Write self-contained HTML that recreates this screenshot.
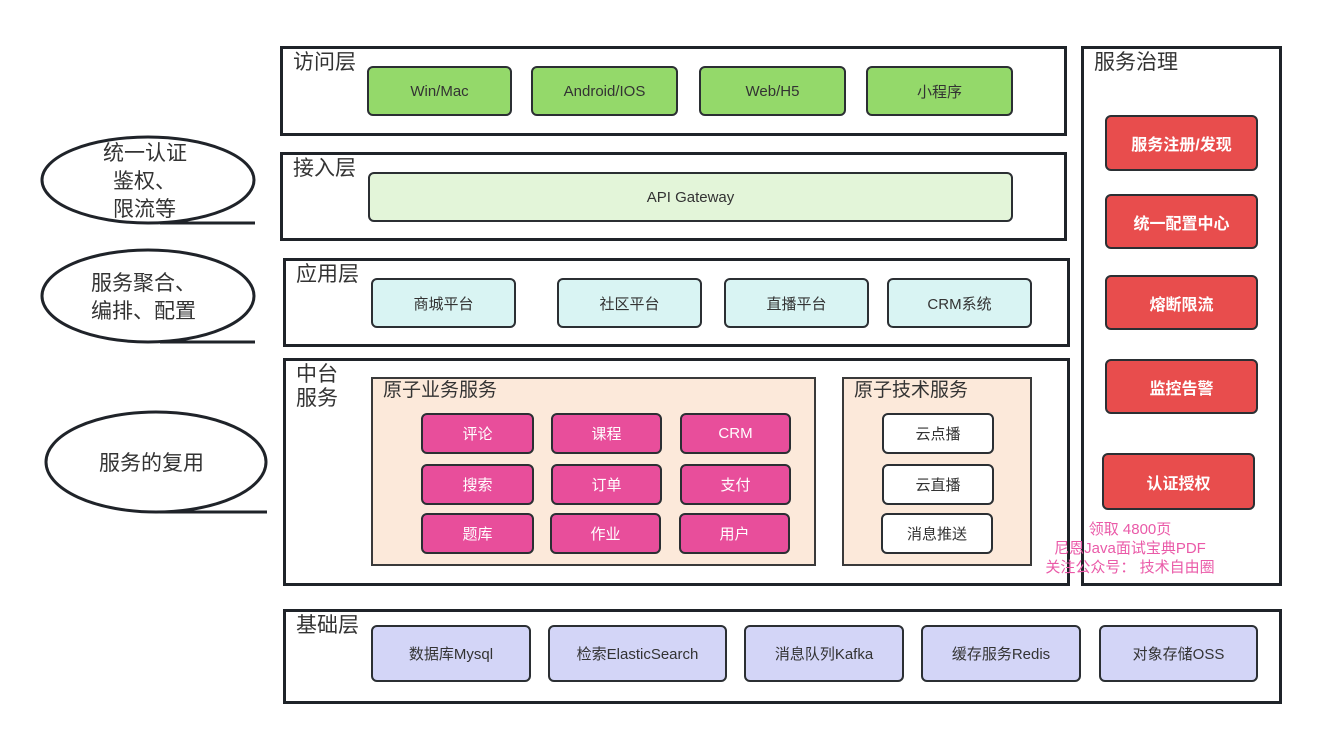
<!DOCTYPE html>
<html><head><meta charset="utf-8"><style>
*{box-sizing:border-box;margin:0;padding:0}
body{width:1334px;height:754px;background:#fff;position:relative;overflow:hidden;font-family:"Liberation Sans","Noto Sans CJK SC",sans-serif;color:#333}
.o{position:absolute;border:3px solid #1f2329}
.b{position:absolute;border:2px solid #2b2f33;border-radius:6px;display:flex;align-items:center;justify-content:center;font-size:15px;color:#333}
.g{background:#94d96a}
.a{background:#d9f4f3}
.p{background:#e84e9b;color:#fff}
.w{background:#fff}
.r{background:#e84d4d;color:#fff;font-weight:bold;font-size:16px}
.v{background:#d3d5f7}
.t{position:absolute;font-size:21px;color:#333;line-height:24px}
.pe{position:absolute;background:#fce9da;border:2px solid #3a3a3a}
</style></head><body>
<svg style="position:absolute;left:0;top:0" width="1334" height="754">
<g fill="none" stroke="#1f2329" stroke-width="3">
<ellipse cx="148" cy="180" rx="106" ry="43"/><line x1="160" y1="223" x2="255" y2="223"/>
<ellipse cx="148" cy="296" rx="106" ry="46"/><line x1="160" y1="342" x2="255" y2="342"/>
<ellipse cx="156" cy="462" rx="110" ry="50"/><line x1="160" y1="512" x2="267" y2="512"/>
</g>
<g font-family="Liberation Sans,Noto Sans CJK SC,sans-serif" font-size="21" fill="#333">
<text x="103" y="160">统一认证</text><text x="113" y="188">鉴权、</text><text x="113" y="216">限流等</text>
<text x="91" y="290">服务聚合、</text><text x="91" y="318">编排、配置</text>
<text x="99" y="470">服务的复用</text>
</g>
</svg>

<div class="o" style="left:280px;top:46px;width:787px;height:90px"></div>
<div class="t" style="left:293px;top:51px">访问层</div>
<div class="b g" style="left:367px;top:66px;width:145px;height:50px">Win/Mac</div>
<div class="b g" style="left:531px;top:66px;width:147px;height:50px">Android/IOS</div>
<div class="b g" style="left:699px;top:66px;width:147px;height:50px">Web/H5</div>
<div class="b g" style="left:866px;top:66px;width:147px;height:50px">小程序</div>

<div class="o" style="left:280px;top:152px;width:787px;height:89px"></div>
<div class="t" style="left:293px;top:157px">接入层</div>
<div class="b" style="left:368px;top:172px;width:645px;height:50px;background:#e3f5d9">API Gateway</div>

<div class="o" style="left:283px;top:258px;width:787px;height:89px"></div>
<div class="t" style="left:296px;top:263px">应用层</div>
<div class="b a" style="left:371px;top:278px;width:145px;height:50px">商城平台</div>
<div class="b a" style="left:557px;top:278px;width:145px;height:50px">社区平台</div>
<div class="b a" style="left:724px;top:278px;width:145px;height:50px">直播平台</div>
<div class="b a" style="left:887px;top:278px;width:145px;height:50px">CRM系统</div>

<div class="o" style="left:283px;top:358px;width:787px;height:228px"></div>
<div class="t" style="left:296px;top:363px">中台<br>服务</div>
<div class="pe" style="left:371px;top:377px;width:445px;height:189px"></div>
<div class="t" style="left:383px;top:379px;font-size:19px">原子业务服务</div>
<div class="pe" style="left:842px;top:377px;width:190px;height:189px"></div>
<div class="t" style="left:854px;top:379px;font-size:19px">原子技术服务</div>
<div class="b p" style="left:421px;top:413px;width:113px;height:41px">评论</div>
<div class="b p" style="left:551px;top:413px;width:111px;height:41px">课程</div>
<div class="b p" style="left:680px;top:413px;width:111px;height:41px">CRM</div>
<div class="b p" style="left:421px;top:464px;width:113px;height:41px">搜索</div>
<div class="b p" style="left:551px;top:464px;width:111px;height:41px">订单</div>
<div class="b p" style="left:680px;top:464px;width:111px;height:41px">支付</div>
<div class="b p" style="left:421px;top:513px;width:113px;height:41px">题库</div>
<div class="b p" style="left:550px;top:513px;width:111px;height:41px">作业</div>
<div class="b p" style="left:679px;top:513px;width:111px;height:41px">用户</div>
<div class="b w" style="left:882px;top:413px;width:112px;height:41px">云点播</div>
<div class="b w" style="left:882px;top:464px;width:112px;height:41px">云直播</div>
<div class="b w" style="left:881px;top:513px;width:112px;height:41px">消息推送</div>

<div class="o" style="left:1081px;top:46px;width:201px;height:540px"></div>
<div class="t" style="left:1094px;top:51px">服务治理</div>
<div class="b r" style="left:1105px;top:115px;width:153px;height:56px">服务注册/发现</div>
<div class="b r" style="left:1105px;top:194px;width:153px;height:55px">统一配置中心</div>
<div class="b r" style="left:1105px;top:275px;width:153px;height:55px">熔断限流</div>
<div class="b r" style="left:1105px;top:359px;width:153px;height:55px">监控告警</div>
<div class="b r" style="left:1102px;top:453px;width:153px;height:57px">认证授权</div>
<div style="position:absolute;left:1030px;top:520px;width:200px;text-align:center;color:#ea5aa8;font-size:15px;line-height:19px">领取 4800页<br>尼恩Java面试宝典PDF<br>关注公众号： 技术自由圈</div>

<div class="o" style="left:283px;top:609px;width:999px;height:95px"></div>
<div class="t" style="left:296px;top:614px">基础层</div>
<div class="b v" style="left:371px;top:625px;width:160px;height:57px">数据库Mysql</div>
<div class="b v" style="left:548px;top:625px;width:179px;height:57px">检索ElasticSearch</div>
<div class="b v" style="left:744px;top:625px;width:160px;height:57px">消息队列Kafka</div>
<div class="b v" style="left:921px;top:625px;width:160px;height:57px">缓存服务Redis</div>
<div class="b v" style="left:1099px;top:625px;width:159px;height:57px">对象存储OSS</div>
</body></html>
